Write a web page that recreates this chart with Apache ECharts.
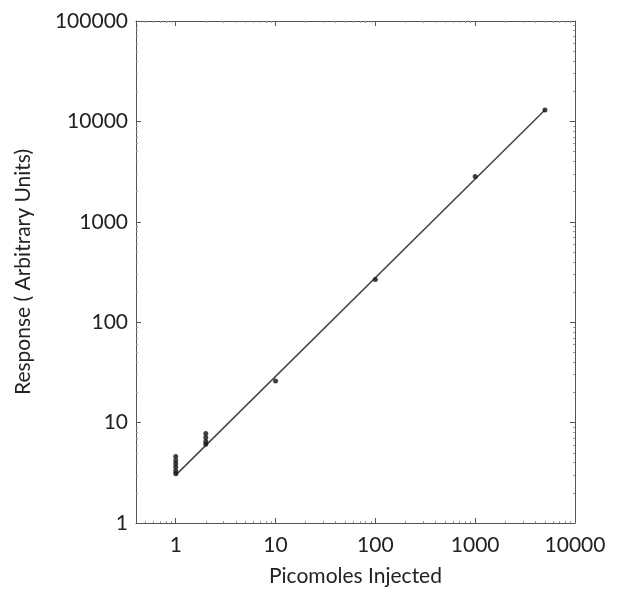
<!DOCTYPE html>
<html>
<head>
<meta charset="utf-8">
<script src="https://cdn.jsdelivr.net/npm/echarts@6/dist/echarts.min.js"></script>
<style>
  html, body { margin: 0; padding: 0; background: #fff; }
  #chart { width: 619px; height: 592px; }
</style>
</head>
<body>
<div id="chart"></div>
<script>
// picomoles injected / response readings (replicates at the low end)
var pointX = [1, 1, 1, 1, 1, 1, 2, 2, 2, 2, 10, 100, 1000, 5000];
var pointY = [3.1, 3.3, 3.6, 3.9, 4.2, 4.6, 6.1, 6.5, 7.1, 7.8, 26, 266, 2820, 13000];
// straight calibration line
var lineX = [1, 5000];
var lineY = [3.0, 13000];
var xTicks = [1, 10, 100, 1000, 10000];
var yTicks = [1, 10, 100, 1000, 10000, 100000];

var font = 'Lato, "Open Sans", sans-serif';
var axisGray = '#555';

function powLabel(ticks) {
  return function (v) {
    for (var i = 0; i < ticks.length; i++) {
      if (Math.abs(v - ticks[i]) < ticks[i] * 1e-6) return String(ticks[i]);
    }
    return '';
  };
}

var chart = echarts.init(document.getElementById('chart'));

var xBase = {
  type: 'log',
  logBase: 10,
  min: 0.4,
  max: 10000,
  axisLine: { lineStyle: { color: axisGray, width: 1 } },
  axisTick: { inside: true, length: 5, lineStyle: { color: axisGray } },
  minorTick: { show: true, splitNumber: 9, length: 2, lineStyle: { color: '#999' } },
  splitLine: { show: false }
};
var yBase = {
  type: 'log',
  logBase: 10,
  min: 1,
  max: 100000,
  axisLine: { lineStyle: { color: axisGray, width: 1 } },
  axisTick: { inside: true, length: 5, lineStyle: { color: axisGray } },
  minorTick: { show: true, splitNumber: 9, length: 2, lineStyle: { color: '#999' } },
  splitLine: { show: false }
};

chart.setOption({
  backgroundColor: '#fff',
  animation: false,
  grid: { left: 136, top: 21, right: 44, bottom: 68 },
  xAxis: [
    Object.assign({}, xBase, {
      position: 'bottom',
      name: 'Picomoles Injected',
      nameLocation: 'middle',
      nameGap: 43,
      nameTextStyle: { fontFamily: font, fontSize: 21, color: '#222' },
      axisLabel: {
        formatter: powLabel(xTicks),
        fontFamily: font, fontSize: 21, color: '#222', margin: 12,
        showMinLabel: true, showMaxLabel: true
      }
    }),
    Object.assign({}, xBase, { position: 'top', axisLabel: { show: false } })
  ],
  yAxis: [
    Object.assign({}, yBase, {
      position: 'left',
      name: 'Response ( Arbitrary Units)',
      nameLocation: 'middle',
      nameGap: 102,
      nameTextStyle: { fontFamily: font, fontSize: 21, color: '#222' },
      axisLabel: {
        formatter: powLabel(yTicks),
        fontFamily: font, fontSize: 21, color: '#222', margin: 8,
        showMinLabel: true, showMaxLabel: true
      }
    }),
    Object.assign({}, yBase, { position: 'right', axisLabel: { show: false } })
  ],
  series: [
    {
      type: 'line',
      data: lineX.map(function (x, i) { return [x, lineY[i]]; }),
      showSymbol: false,
      lineStyle: { color: '#444', width: 1.5 },
      z: 2
    },
    {
      type: 'scatter',
      data: pointX.map(function (x, i) { return [x, pointY[i]]; }),
      symbolSize: 5,
      itemStyle: { color: '#111' },
      z: 3
    }
  ]
});
</script>
</body>
</html>
